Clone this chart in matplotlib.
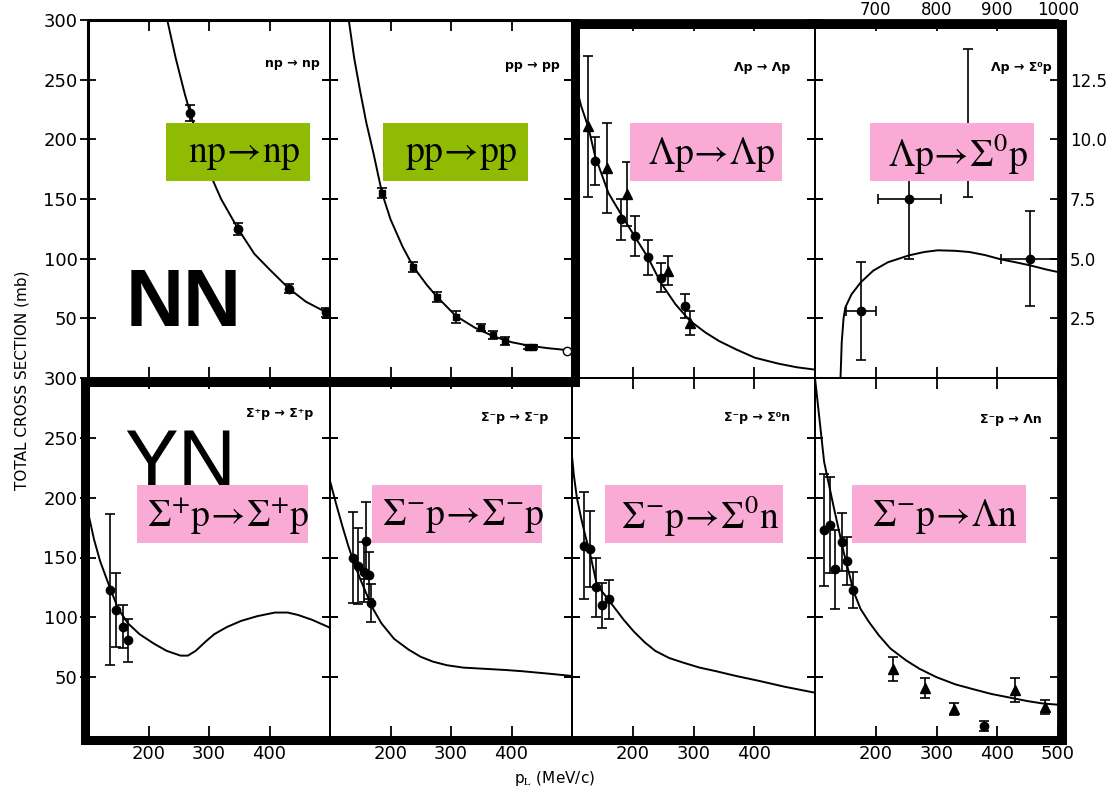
import matplotlib
matplotlib.use('Agg')
from matplotlib import pyplot as plt
from matplotlib.lines import Line2D
from matplotlib.patches import Rectangle

plt.rcParams['mathtext.fontset'] = 'stix'
plt.rcParams['font.family'] = ['DejaVu Sans']

# ---- data (p_L in MeV/c, cross section in mb) ----
np_x = [269, 348, 432, 494]
np_y = [222, 125, 75, 55]
np_err = [7, 5, 4, 4]
np_curve_x = [231, 245, 260, 269, 285, 300, 320, 348, 375, 400, 432, 460, 494, 500]
np_curve_y = [300, 268, 238, 222, 195, 173, 150, 125, 104, 91, 75, 64, 55, 53]

pp_x = [186, 238, 277, 308, 349, 369, 389, 428, 436]
pp_y = [155, 93, 68, 51, 42, 36, 31, 26, 26]
pp_err = [4, 4, 4, 5, 3, 3, 3, 2, 2]
pp_open_x = [491]
pp_open_y = [23]
pp_curve_x = [131, 140, 150, 160, 172, 186, 200, 220, 238, 260, 277, 308, 340, 370, 400, 430, 460, 500]
pp_curve_y = [300, 268, 240, 214, 188, 155, 133, 110, 93, 78, 68, 52, 42, 35, 30, 27, 25, 23]

lp_circ_x = [138, 181, 204, 225, 246, 286]
lp_circ_y = [182, 133, 119, 101, 84, 60]
lp_circ_err = [20, 17, 17, 15, 12, 10]
lp_tri_x = [127, 158, 191, 258, 295]
lp_tri_y = [211, 176, 154, 90, 46]
lp_tri_err = [59, 38, 27, 12, 10]
lp_curve_x = [100, 115, 127, 138, 160, 181, 204, 225, 246, 270, 294, 320, 342, 370, 401, 440, 470, 500]
lp_curve_y = [258, 228, 210, 186, 155, 137, 118, 101, 80, 62, 48, 38, 31, 24, 17, 12, 9, 7]

# Lambda p -> Sigma0 p uses the top/right scales (600-1000 MeV/c, 0-15 mb)
ls_x = [676, 755, 852, 954]
ls_y = [2.8, 7.5, 10.0, 5.0]
ls_yerr_lo = [2.05, 2.5, 2.4, 2.0]
ls_yerr_hi = [2.05, 2.5, 3.8, 2.0]
ls_xerr = [25, 52, 0, 48]
ls_curve_x = [642, 644, 647, 650, 660, 675, 696, 720, 755, 780, 802, 830, 854, 880, 906, 930, 954, 980, 1000]
ls_curve_y = [0, 1.5, 2.5, 2.96, 3.5, 4.0, 4.5, 4.85, 5.14, 5.28, 5.35, 5.33, 5.28, 5.15, 4.97, 4.85, 4.72, 4.55, 4.44]

spp_x = [136, 147, 158, 166]
spp_y = [123, 106, 92, 81]
spp_err = [63, 31, 18, 18]
spp_curve_x = [100, 110, 120, 136, 150, 166, 185, 209, 230, 253, 265, 278, 295, 309, 330, 353, 380, 409, 430, 447, 470, 497, 500]
spp_curve_y = [188, 165, 147, 125, 107, 95, 86, 78, 72, 68, 68, 72, 80, 86, 92, 97, 101, 104, 104, 102, 98, 92, 91]

smm_x = [138, 147, 156, 160, 164, 168]
smm_y = [150, 143, 138, 164, 135, 112]
smm_err = [38, 32, 25, 32, 20, 16]
smm_curve_x = [100, 110, 120, 130, 140, 150, 160, 169, 185, 206, 230, 250, 270, 293, 320, 355, 390, 417, 460, 500]
smm_curve_y = [214, 195, 177, 160, 145, 132, 120, 109, 95, 82, 73, 67, 63, 60, 58, 57, 56, 55, 53, 51]

sm0_x = [120, 130, 139, 149, 161]
sm0_y = [160, 157, 125, 110, 115]
sm0_err = [45, 32, 25, 19, 16]
sm0_curve_x = [100, 103, 108, 115, 122, 129, 141, 155, 167, 185, 202, 220, 237, 260, 284, 310, 337, 370, 407, 450, 500]
sm0_curve_y = [235, 219, 200, 183, 168, 155, 127, 118, 110, 98, 88, 79, 72, 66, 62, 58, 55, 51, 47, 42, 37]

sml_circ_x = [115, 124, 133, 144, 152, 163, 379]
sml_circ_y = [173, 177, 140, 163, 147, 123, 9]
sml_circ_err = [47, 40, 33, 24, 20, 15, 4]
sml_tri_x = [229, 281, 328, 429, 478]
sml_tri_y = [57, 41, 23, 39, 25]
sml_tri_err = [10, 8, 5, 10, 6]
sml_curve_x = [100, 103, 115, 130, 147, 164, 175, 189, 205, 224, 250, 272, 300, 331, 360, 390, 420, 450, 475, 500]
sml_curve_y = [300, 286, 230, 194, 155, 121, 107, 96, 85, 74, 64, 57, 50, 44, 40, 36, 33, 30, 28, 27]

small_labels = ['np → np', 'pp → pp', 'Λp → Λp', 'Λp → Σ⁰p',
                'Σ⁺p → Σ⁺p', 'Σ⁻p → Σ⁻p', 'Σ⁻p → Σ⁰n', 'Σ⁻p → Λn']
box_labels = [r'$\mathrm{np\!\rightarrow\!np}$', r'$\mathrm{pp\!\rightarrow\!pp}$',
              r'$\mathrm{\Lambda p\!\rightarrow\!\Lambda p}$', r'$\mathrm{\Lambda p\!\rightarrow\!\Sigma^{0}p}$',
              r'$\mathrm{\Sigma^{+}p\!\rightarrow\!\Sigma^{+}p}$', r'$\mathrm{\Sigma^{-}p\!\rightarrow\!\Sigma^{-}p}$',
              r'$\mathrm{\Sigma^{-}p\!\rightarrow\!\Sigma^{0}n}$', r'$\mathrm{\Sigma^{-}p\!\rightarrow\!\Lambda n}$']

W, H = 1113, 789
GREEN = '#8fbb02'
PINK = '#f9abd5'

fig = plt.figure(figsize=(W / 100, H / 100), dpi=100)


def pxAxes(x0, y0, x1, y1):
    return fig.add_axes([x0 / W, 1 - y1 / H, (x1 - x0) / W, (y1 - y0) / H])


def pxText(x, y, s, **kw):
    return fig.text(x / W, 1 - y / H, s, **kw)


def setupPanel(ax, row, col):
    ax.set_xlim(100, 500)
    ax.set_ylim(0, 300)
    ax.set_xticks([200, 300, 400, 500] if col == 3 else [200, 300, 400])
    ax.set_yticks([50, 100, 150, 200, 250, 300])
    ax.tick_params(axis='x', direction='in', length=8, width=1.3, top=True,
                   labelbottom=(row == 1), labelsize=13, pad=6)
    ax.tick_params(axis='y', direction='inout', length=11, width=1.3, right=True,
                   labelleft=(col == 0), labelsize=13, pad=2)
    for s in ax.spines.values():
        s.set_linewidth(1.3)
    ax.patch.set_alpha(0)


def drawCurve(ax, xs, ys):
    ax.plot(xs, ys, color='black', lw=1.4)


def drawPoints(ax, xs, ys, err, marker='o', ms=6):
    ax.errorbar(xs, ys, yerr=err, fmt=marker, color='black', ms=ms,
                capsize=3.5, elinewidth=1.2, capthick=1.2)


cols = [88, 330, 572, 815, 1058]
rows = [20, 378, 737]

axes = {}
for r in range(2):
    for c in range(4):
        if r == 0 and c == 3:
            continue
        ax = pxAxes(cols[c], rows[r], cols[c + 1], rows[r + 1])
        setupPanel(ax, r, c)
        axes[(r, c)] = ax

# np -> np
ax = axes[(0, 0)]
drawCurve(ax, np_curve_x, np_curve_y)
drawPoints(ax, np_x, np_y, np_err)

# pp -> pp
ax = axes[(0, 1)]
drawCurve(ax, pp_curve_x, pp_curve_y)
drawPoints(ax, pp_x, pp_y, pp_err, marker='s', ms=5)
ax.plot(pp_open_x, pp_open_y, 'o', mfc='white', mec='black', ms=6, clip_on=False)

# Lambda p -> Lambda p
ax = axes[(0, 2)]
drawCurve(ax, lp_curve_x, lp_curve_y)
drawPoints(ax, lp_circ_x, lp_circ_y, lp_circ_err)
drawPoints(ax, lp_tri_x, lp_tri_y, lp_tri_err, marker='^', ms=7)

# Lambda p -> Sigma0 p (own scales on top and right)
ax = pxAxes(cols[3], rows[0], cols[4], rows[1])
ax.patch.set_alpha(0)
ax.set_xlim(600, 1000)
ax.set_ylim(0, 15)
ax.set_xticks([700, 800, 900, 1000])
ax.set_yticks([2.5, 5.0, 7.5, 10.0, 12.5])
ax.set_yticklabels(['2.5', '5.0', '7.5', '10.0', '12.5'])
ax.xaxis.tick_top()
ax.yaxis.tick_right()
ax.tick_params(axis='x', direction='in', length=8, width=1.3, bottom=True, top=True,
               labeltop=True, labelbottom=False, labelsize=12, pad=1)
ax.tick_params(axis='y', direction='inout', length=11, width=1.3, left=True, right=True,
               labelright=True, labelleft=False, labelsize=12, pad=3)
for s in ax.spines.values():
    s.set_linewidth(1.3)
ax.plot(ls_curve_x, ls_curve_y, color='black', lw=1.4)
ax.errorbar(ls_x, ls_y, yerr=[ls_yerr_lo, ls_yerr_hi], xerr=ls_xerr, fmt='o', color='black',
            ms=6, capsize=3.5, elinewidth=1.2, capthick=1.2)

# Sigma+ p -> Sigma+ p
ax = axes[(1, 0)]
drawCurve(ax, spp_curve_x, spp_curve_y)
drawPoints(ax, spp_x, spp_y, spp_err)

# Sigma- p -> Sigma- p
ax = axes[(1, 1)]
drawCurve(ax, smm_curve_x, smm_curve_y)
drawPoints(ax, smm_x, smm_y, smm_err)

# Sigma- p -> Sigma0 n
ax = axes[(1, 2)]
drawCurve(ax, sm0_curve_x, sm0_curve_y)
drawPoints(ax, sm0_x, sm0_y, sm0_err)

# Sigma- p -> Lambda n
ax = axes[(1, 3)]
drawCurve(ax, sml_curve_x, sml_curve_y)
drawPoints(ax, sml_circ_x, sml_circ_y, sml_circ_err)
drawPoints(ax, sml_tri_x, sml_tri_y, sml_tri_err, marker='^', ms=7)

# small panel labels from the original figure
small_pos = [(320, 63), (560, 65), (790, 68), (1052, 68),
             (313, 413), (548, 417), (790, 418), (1042, 420)]
for (x, y), s in zip(small_pos, small_labels):
    pxText(x, y, s, ha='right', va='center', fontsize=9, fontweight='bold')

# axis titles
pxText(22, 380, 'TOTAL CROSS SECTION (mb)', rotation=90, ha='center', va='center', fontsize=11)
pxText(555, 778, r'p$_{\mathrm{L}}$ (MeV/c)', ha='center', va='center', fontsize=11)

# big group names
pxText(184, 305, 'NN', ha='center', va='center', fontsize=58, fontweight='bold',
       family='Liberation Sans', zorder=1)
pxText(180, 466, 'YN', ha='center', va='center', fontsize=58,
       family='Liberation Sans', zorder=1)

# coloured overlay boxes
boxes = [(166, 310, 123, 181, GREEN), (383, 528, 123, 181, GREEN),
         (630, 782, 123, 181, PINK), (870, 1034, 123, 181, PINK),
         (137, 308, 485, 543, PINK), (372, 542, 485, 543, PINK),
         (605, 783, 485, 543, PINK), (852, 1026, 485, 543, PINK)]
for (x0, x1, y0, y1, colr), s in zip(boxes, box_labels):
    fig.add_artist(Rectangle((x0 / W, 1 - y1 / H), (x1 - x0) / W, (y1 - y0) / H,
                             transform=fig.transFigure, facecolor=colr,
                             edgecolor='none', zorder=2))
    pxText((x0 + x1) / 2 + 6, (y0 + y1) / 2 + 2, s, ha='center', va='center',
           fontsize=27, zorder=3)

# thick outline round the YN group
outline = [(575, 24), (1062, 24), (1062, 740), (85, 740), (85, 382), (575, 382), (575, 24)]
fig.add_artist(Line2D([p[0] / W for p in outline], [1 - p[1] / H for p in outline],
                      transform=fig.transFigure, color='black', lw=6.5,
                      solid_joinstyle='miter', zorder=4))
# slightly heavier frame of the NN group
fig.add_artist(Line2D([88 / W, 88 / W, 575 / W], [1 - 378 / H, 1 - 20 / H, 1 - 20 / H],
                      transform=fig.transFigure, color='black', lw=2.2, zorder=4))

fig.savefig('out.png', dpi=100)
